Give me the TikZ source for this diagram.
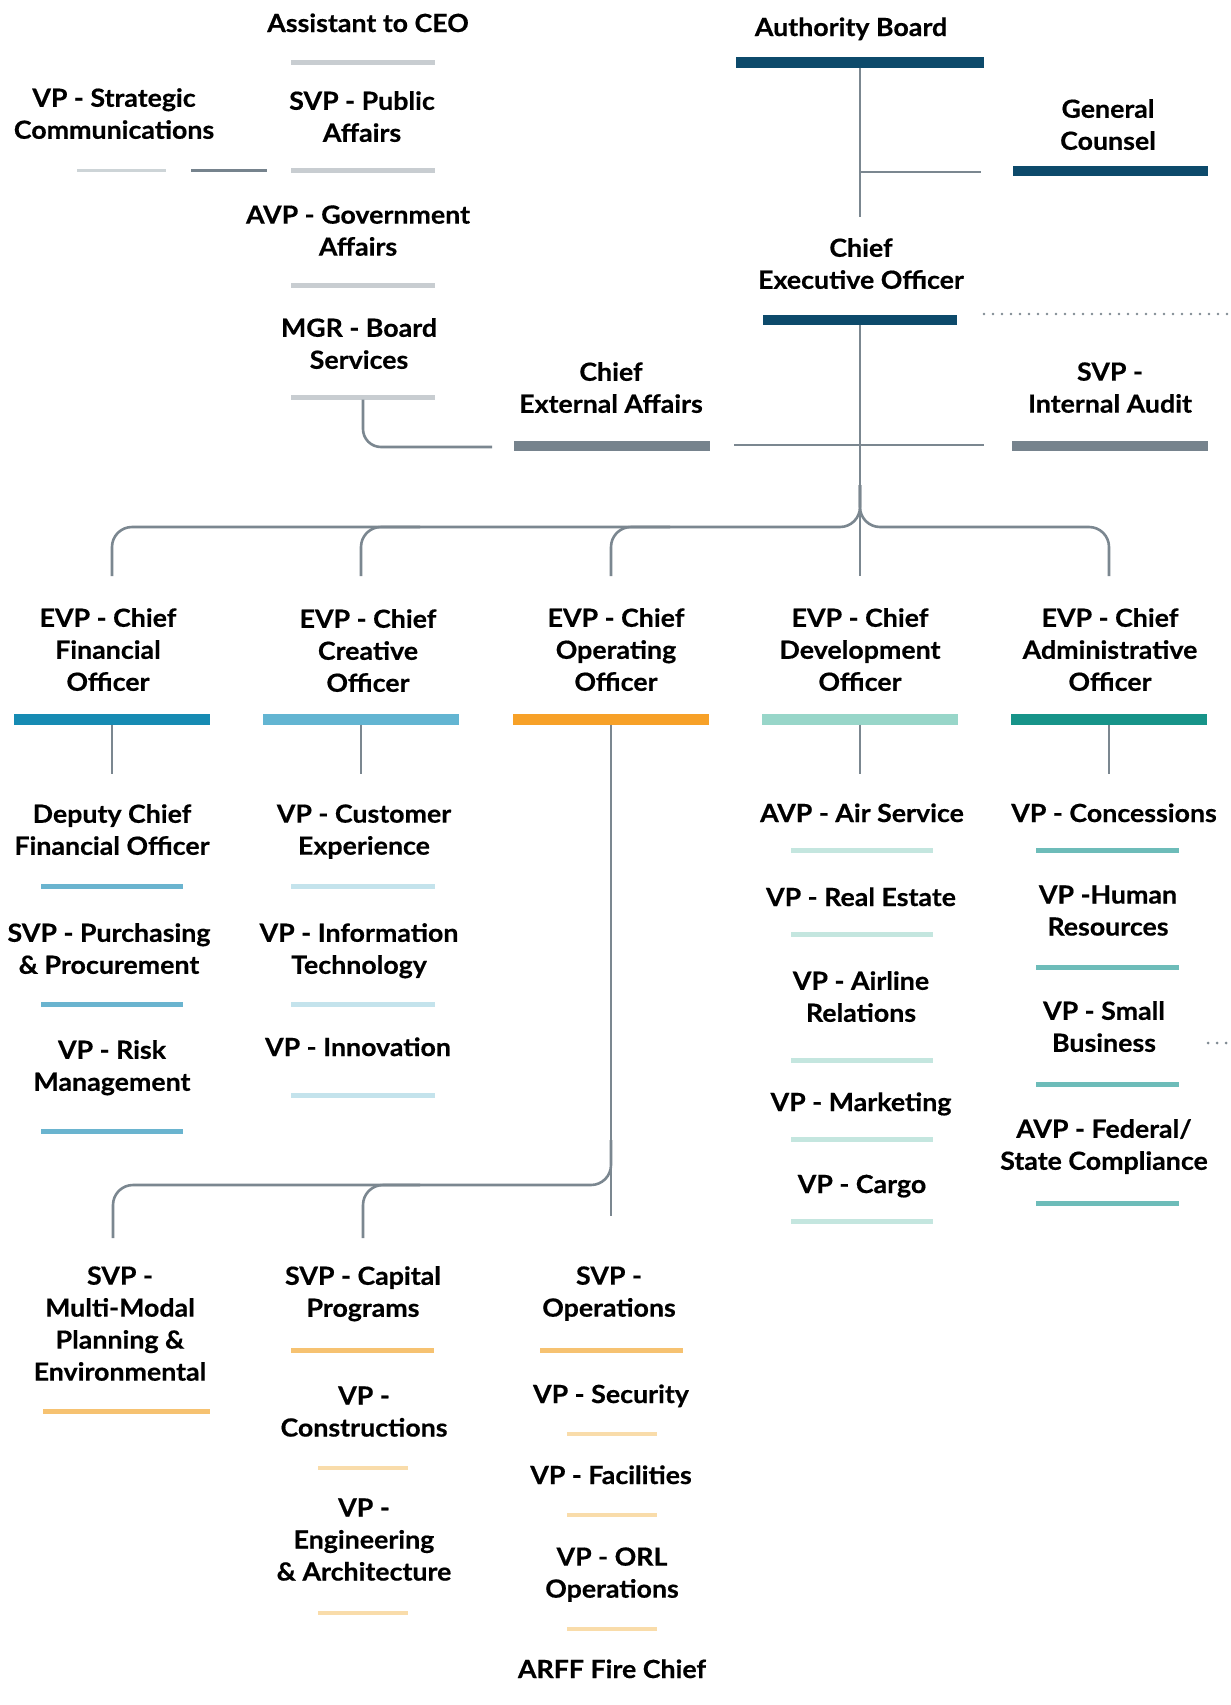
\documentclass[tikz,border=0pt]{standalone}
\usepackage{fontspec}
\setmainfont{Lato}[FakeStretch=1.07, BoldFeatures={FakeBold=0.5}]
\definecolor{navy}{HTML}{0D4A6B}
\definecolor{slate}{HTML}{76838D}
\definecolor{connc}{HTML}{7B8790}
\definecolor{lgray}{HTML}{C8CDD1}
\definecolor{lgray2}{HTML}{CDD4D7}
\definecolor{cfoc}{HTML}{168BB3}
\definecolor{ccoc}{HTML}{63B5D2}
\definecolor{cooc}{HTML}{F7A128}
\definecolor{cdoc}{HTML}{98D6C9}
\definecolor{caoc}{HTML}{179489}
\definecolor{cfosub}{HTML}{6AB4CF}
\definecolor{ccosub}{HTML}{C4E3EC}
\definecolor{cdosub}{HTML}{C4E6DF}
\definecolor{caosub}{HTML}{6DBCB9}
\definecolor{coosvp}{HTML}{F6C271}
\definecolor{coovp}{HTML}{F9DCAA}
\definecolor{dotc}{HTML}{7F8A92}
\newcommand\lstrut{\rule[-5pt]{0pt}{28pt}}
\tikzset{
  lbl/.style={font=\fontsize{25}{32}\selectfont\bfseries, align=center, inner sep=0pt,
    text=black, execute at begin node=\lstrut, execute at end node=\lstrut},
  hbar/.style={fill=#1, draw=none, rectangle, inner sep=0pt},
  link/.style={draw=connc, line width=2.6pt},
  dotline/.style={draw=dotc, line width=2.6pt, line cap=round, dash pattern=on 0pt off 9pt},
}
\begin{document}
\begin{tikzpicture}[x=1pt,y=-1pt]
\fill[white] (0,0) rectangle (1231,1705);
\useasboundingbox (0,0) rectangle (1231,1705);

% ---------- top left group ----------
\node[lbl] (asst) at (368,23) {Assistant to CEO};
\node[hbar=lgray, minimum width=144pt, minimum height=5pt] (asstbar) at (363,62) {};
\node[lbl] (vpsc) at (114,116) {VP - Strategic\\Communications};
\node[hbar=lgray2, minimum width=89pt, minimum height=3pt] (scbar) at (121.5,170) {};
\coordinate (scL) at (191,170);
\coordinate (scR) at (267,170);
\draw[draw=slate, line width=3pt] (scL) -- (scR);
\node[lbl] (svppa) at (362,119) {SVP - Public\\Affairs};
\node[hbar=lgray, minimum width=144pt, minimum height=5pt] (pabar) at (363,170) {};
\node[lbl] (avpga) at (358,233) {AVP - Government\\Affairs};
\node[hbar=lgray, minimum width=144pt, minimum height=5pt] (gabar) at (363,285) {};
\node[lbl] (mgrbs) at (359,346) {MGR - Board\\Services};
\node[hbar=lgray, minimum width=144pt, minimum height=5pt] (mgrbar) at (363,397) {};
\coordinate (mgrend) at (492,447);
\draw[link, rounded corners=18pt] (mgrbar.south) |- (mgrend);

% ---------- top right group ----------
\node[lbl] (ab) at (851,27) {Authority Board};
\node[hbar=navy, minimum width=248pt, minimum height=11pt] (abbar) at (860,62) {};
\node[lbl] (gc) at (1108,127) {General\\Counsel};
\node[hbar=navy, minimum width=195pt, minimum height=10pt] (gcbar) at (1110,171) {};
\node[lbl] (ceo) at (861,266) {Chief\\Executive Officer};
\node[hbar=navy, minimum width=194pt, minimum height=10pt] (ceobar) at (860,320) {};
\coordinate (ceotop) at (860,217);
\coordinate (gcj) at (860,172);
\coordinate (gcend) at (981,172);
\draw[link] (abbar.south) -- (ceotop);
\draw[link] (gcj) -- (gcend);
\coordinate (dotL) at (984,314);
\coordinate (dotR) at (1231,314);
\draw[dotline] (dotL) -- (dotR);

\node[lbl] (cea) at (611,390) {Chief\\External Affairs};
\node[hbar=slate, minimum width=196pt, minimum height=10pt] (ceabar) at (612,446) {};
\node[lbl] (ia) at (1110,390) {SVP -\\Internal Audit};
\node[hbar=slate, minimum width=196pt, minimum height=10pt] (iabar) at (1110,446) {};
\coordinate (hL) at (734,445);
\coordinate (hR) at (984,445);
\draw[link] (hL) -- (hR);

% ---------- EVP row ----------
\coordinate (cfotop) at (112,576);
\coordinate (ccotop) at (361,576);
\coordinate (cootop) at (611,576);
\coordinate (cdotop) at (860,576);
\coordinate (caotop) at (1109,576);
\coordinate (busup) at (860,485);
\draw[link] (ceobar.south) -- (cdotop);
\draw[link, rounded corners=20pt] (cfotop) |- (860,527) -- (busup);
\draw[link, rounded corners=20pt] (busup) -- (860,527) -| (caotop);
\draw[link, rounded corners=20pt] (ccotop) |- (420,527);
\draw[link, rounded corners=20pt] (cootop) |- (670,527);

\node[lbl] (cfo) at (108,652) {EVP - Chief\\Financial\\Officer};
\node[lbl] (cco) at (368,653) {EVP - Chief\\Creative\\Officer};
\node[lbl] (coo) at (616,652) {EVP - Chief\\Operating\\Officer};
\node[lbl] (cdo) at (860,652) {EVP - Chief\\Development\\Officer};
\node[lbl] (cao) at (1110,652) {EVP - Chief\\Administrative\\Officer};
\node[hbar=cfoc, minimum width=196pt, minimum height=11pt] (cfobar) at (112,719) {};
\node[hbar=ccoc, minimum width=196pt, minimum height=11pt] (ccobar) at (361,719) {};
\node[hbar=cooc, minimum width=196pt, minimum height=11pt] (coobar) at (611,719) {};
\node[hbar=cdoc, minimum width=196pt, minimum height=11pt] (cdobar) at (860,719) {};
\node[hbar=caoc, minimum width=196pt, minimum height=11pt] (caobar) at (1109,719) {};
\coordinate (cfobot) at (112,774);
\coordinate (ccobot) at (361,774);
\coordinate (cdobot) at (860,774);
\coordinate (caobot) at (1109,774);
\coordinate (coobot) at (611,1216);
\draw[link] (cfobar.south) -- (cfobot);
\draw[link] (ccobar.south) -- (ccobot);
\draw[link] (cdobar.south) -- (cdobot);
\draw[link] (caobar.south) -- (caobot);
\draw[link] (coobar.south) -- (coobot);

% ---------- CFO column ----------
\node[lbl] (dcfo) at (112,832) {Deputy Chief\\Financial Officer};
\node[hbar=cfosub, minimum width=142pt, minimum height=5pt] (dcfobar) at (112,886) {};
\node[lbl] (purch) at (109,951) {SVP - Purchasing\\\& Procurement};
\node[hbar=cfosub, minimum width=142pt, minimum height=5pt] (purchbar) at (112,1004) {};
\node[lbl] (risk) at (112,1068) {VP - Risk\\Management};
\node[hbar=cfosub, minimum width=142pt, minimum height=5pt] (riskbar) at (112,1131) {};

% ---------- CCO column ----------
\node[lbl] (cx) at (364,832) {VP - Customer\\Experience};
\node[hbar=ccosub, minimum width=144pt, minimum height=5pt] (cxbar) at (363,886) {};
\node[lbl] (itn) at (359,951) {VP - Information\\Technology};
\node[hbar=ccosub, minimum width=144pt, minimum height=5pt] (itbar) at (363,1004) {};
\node[lbl] (innov) at (358,1047) {VP - Innovation};
\node[hbar=ccosub, minimum width=144pt, minimum height=5pt] (innovbar) at (363,1095) {};

% ---------- CDO column ----------
\node[lbl] (air) at (862,813) {AVP - Air Service};
\node[hbar=cdosub, minimum width=142pt, minimum height=5pt] (airbar) at (862,850) {};
\node[lbl] (re) at (861,897) {VP - Real Estate};
\node[hbar=cdosub, minimum width=142pt, minimum height=5pt] (rebar) at (862,934) {};
\node[lbl] (airl) at (861,999) {VP - Airline\\Relations};
\node[hbar=cdosub, minimum width=142pt, minimum height=5pt] (airlbar) at (862,1060) {};
\node[lbl] (mkt) at (861,1102) {VP - Marketing};
\node[hbar=cdosub, minimum width=142pt, minimum height=5pt] (mktbar) at (862,1139) {};
\node[lbl] (cargo) at (862,1184) {VP - Cargo};
\node[hbar=cdosub, minimum width=142pt, minimum height=5pt] (cargobar) at (862,1221) {};

% ---------- CAO column ----------
\node[lbl] (conc) at (1114,813) {VP - Concessions};
\node[hbar=caosub, minimum width=143pt, minimum height=5pt] (concbar) at (1107.5,850) {};
\node[lbl] (hr) at (1108,913) {VP -Human\\Resources};
\node[hbar=caosub, minimum width=143pt, minimum height=5pt] (hrbar) at (1107.5,967) {};
\node[lbl] (sb) at (1104,1029) {VP - Small\\Business};
\node[hbar=caosub, minimum width=143pt, minimum height=5pt] (sbbar) at (1107.5,1084) {};
\node[lbl] (fed) at (1104,1147) {AVP - Federal/\\State Compliance};
\node[hbar=caosub, minimum width=143pt, minimum height=5pt] (fedbar) at (1107.5,1203) {};
\coordinate (dsL) at (1208,1043);
\coordinate (dsR) at (1226,1043);
\draw[draw=dotc, line width=3pt, line cap=round, dash pattern=on 0pt off 9pt] (dsL) -- (dsR);

% ---------- COO lower group ----------
\coordinate (mmtop) at (113,1238);
\coordinate (cptop) at (363,1238);
\coordinate (opsup) at (611,1140);
\draw[link, rounded corners=20pt] (mmtop) |- (611,1185) -- (opsup);
\draw[link, rounded corners=20pt] (cptop) |- (420,1185);

\node[lbl] (mm) at (120,1326) {SVP -\\Multi-Modal\\Planning \&\\Environmental};
\node[hbar=coosvp, minimum width=167pt, minimum height=5pt] (mmbar) at (126.5,1411) {};
\node[lbl] (cp) at (363,1294) {SVP - Capital\\Programs};
\node[hbar=coosvp, minimum width=143pt, minimum height=5pt] (cpbar) at (362.5,1350) {};
\node[lbl] (cons) at (364,1414) {VP -\\Constructions};
\node[hbar=coovp, minimum width=90pt, minimum height=4pt] (consbar) at (363,1468) {};
\node[lbl] (eng) at (364,1542) {VP -\\Engineering\\\& Architecture};
\node[hbar=coovp, minimum width=90pt, minimum height=4pt] (engbar) at (363,1613) {};
\node[lbl] (ops) at (609,1294) {SVP -\\Operations};
\node[hbar=coosvp, minimum width=143pt, minimum height=5pt] (opsbar) at (611.5,1350) {};
\node[lbl] (sec) at (611,1394) {VP - Security};
\node[hbar=coovp, minimum width=90pt, minimum height=4pt] (secbar) at (612,1434) {};
\node[lbl] (fac) at (611,1475) {VP - Facilities};
\node[hbar=coovp, minimum width=90pt, minimum height=4pt] (facbar) at (612,1515) {};
\node[lbl] (orl) at (612,1575) {VP - ORL\\Operations};
\node[hbar=coovp, minimum width=90pt, minimum height=4pt] (orlbar) at (612,1629) {};
\node[lbl] (arff) at (612,1669) {ARFF Fire Chief};
\end{tikzpicture}
\end{document}
